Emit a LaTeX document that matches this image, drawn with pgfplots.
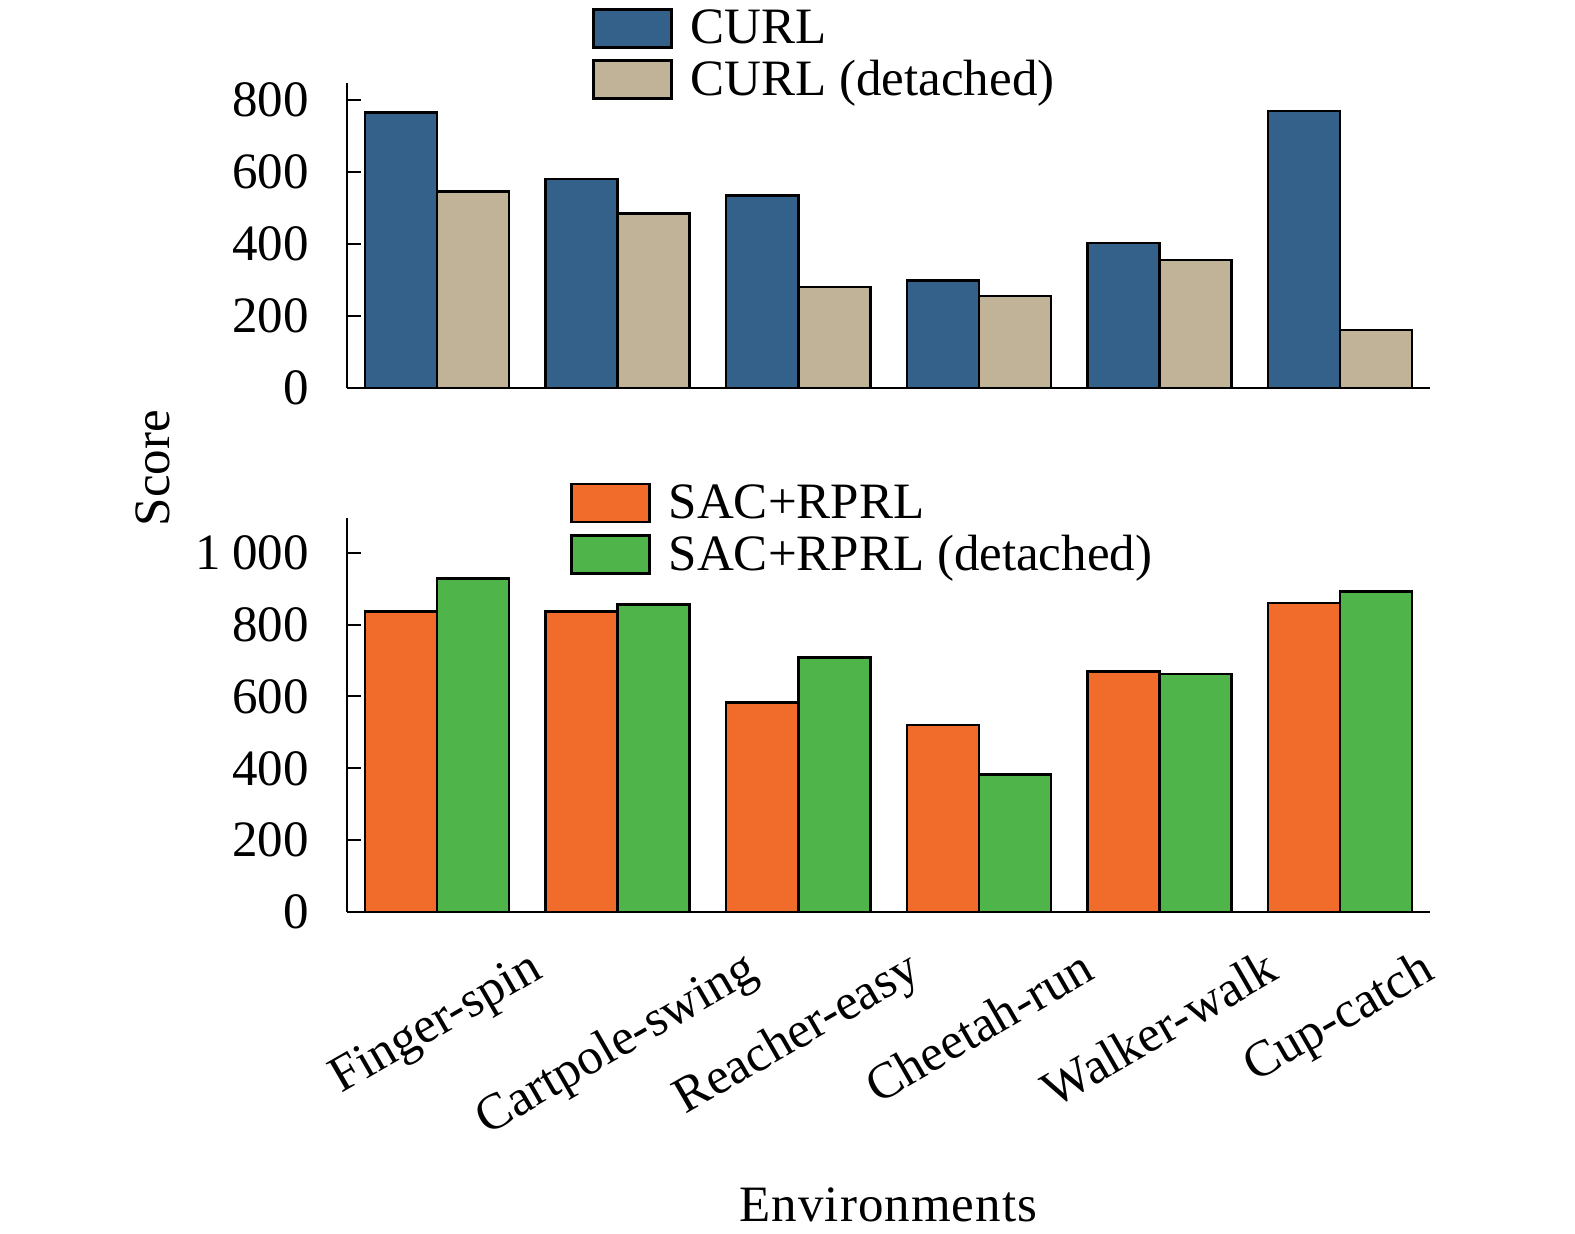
\documentclass[border=0pt]{standalone}
\usepackage{fontspec}
\setmainfont{Liberation Serif}
\usepackage{graphicx}
\usepackage{pgfplots}
\pgfplotsset{compat=1.18}

\definecolor{curl}{RGB}{51,97,138}
\definecolor{curld}{RGB}{193,179,152}
\definecolor{sac}{RGB}{241,108,43}
\definecolor{sacd}{RGB}{79,180,74}

\newcommand{\bigfont}{\fontsize{25.5}{30}\selectfont}

\pgfplotsset{
  mystyle/.style={
    scale only axis,
    width=541.5pt,
    xmin=-0.5, xmax=5.5, ymin=0,
    axis lines*=left,
    axis line style={line width=1pt, black},
    tick align=inside,
    major tick length=7pt,
    tick style={line width=1pt, black},
    ybar=0pt, bar width=36pt,
    font=\bigfont,
    tick label style={font=\bigfont},
    yticklabel style={inner sep=0pt, xshift=-19pt},
    /pgf/number format/assume math mode=true,
    legend style={draw=none, fill=none, inner sep=0pt, outer sep=0pt,
      column sep=9pt, row sep=5.4pt, nodes={inner sep=0pt}, font=\bigfont,
      anchor=north west},
    legend image code/.code={\draw[##1, line width=1.25pt] (0pt,-9.5pt) rectangle (39pt,9.5pt);},
    legend cell align=left,
    every axis plot/.append style={draw=black, line width=1.25pt},
    clip=false,
  }
}

\begin{document}
\begin{tikzpicture}
\useasboundingbox (-173.5pt,-161pt) rectangle (614pt,456pt);

% top axis
\begin{axis}[mystyle,
  at={(0pt,262pt)}, anchor=south west,
  height=152.5pt, ymax=847,
  xtick=\empty,
  ytick={0,200,400,600,800},
  yticklabels={0,200,400,600,800},
  legend style={at={(0.2263,1.2456)}},
]
\addplot[fill=curl] coordinates {(0,765) (1,580) (2,535) (3,298) (4,403) (5,769)};
\addplot[fill=curld] coordinates {(0,545) (1,485) (2,280) (3,256) (4,356) (5,161)};
\legend{CURL, CURL (detached)}
\end{axis}

% bottom axis
\begin{axis}[mystyle,
  at={(0pt,0pt)}, anchor=south west,
  height=197pt, ymax=1097,
  xtick={0,1,2,3,4,5},
  x tick style={draw=none},
  xticklabels={\rotatebox{30}{Finger-spin},\rotatebox{30}{Cartpole-swing},\rotatebox{30}{Reacher-easy},\rotatebox{30}{Cheetah-run},\rotatebox{30}{Walker-walk},\rotatebox{30}{Cup-catch}},
  xticklabel style={anchor=north, inner sep=0pt, yshift=-10.5pt},
  ytick={0,200,400,600,800,1000},
  yticklabels={0,200,400,600,800,1\hspace{0.22em}000},
  xlabel={\addfontfeature{LetterSpace=2}Environments},
  xlabel style={at={(axis description cs:0.5,0)}, anchor=base, yshift=-155pt, inner sep=0pt},
  legend style={at={(0.2062,1.089)}},
]
\addplot[fill=sac] coordinates {(0,836) (1,836) (2,583) (3,521) (4,669) (5,860)};
\addplot[fill=sacd] coordinates {(0,928) (1,856) (2,708) (3,383) (4,662) (5,892)};
\legend{SAC+RPRL, SAC+RPRL (detached)}
\end{axis}

\node[rotate=90, anchor=base, font=\bigfont, inner sep=0pt] at (-88.5pt,222pt) {Score};
\end{tikzpicture}
\end{document}
